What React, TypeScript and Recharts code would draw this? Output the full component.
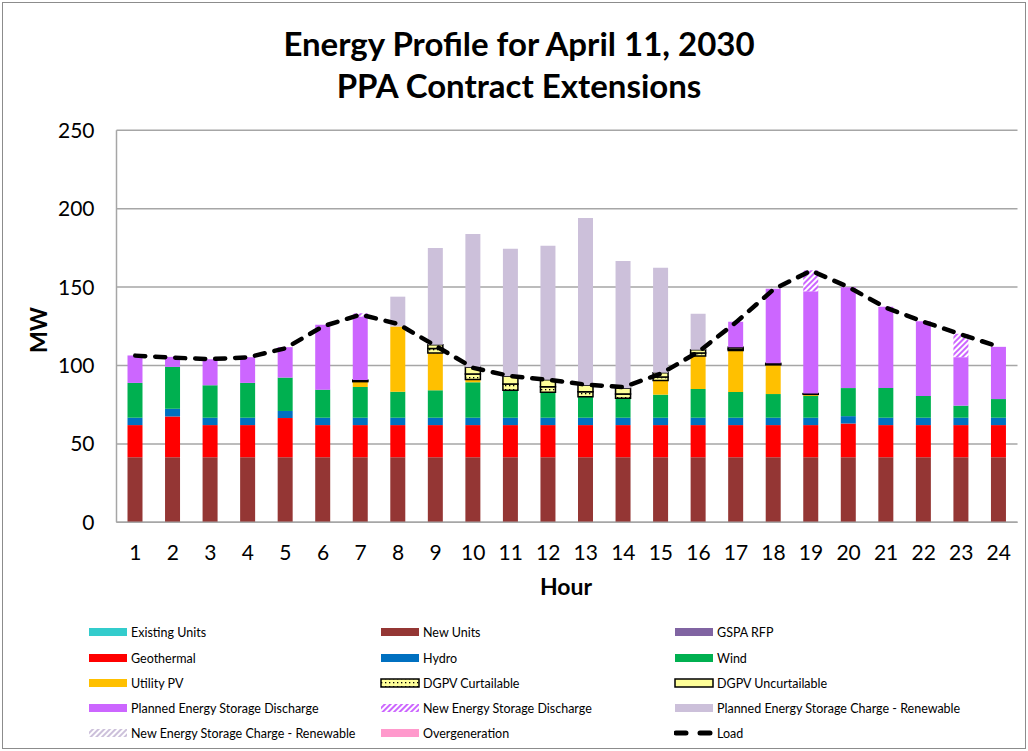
import React from 'react';
import { ComposedChart, Bar, Line, XAxis, YAxis, CartesianGrid } from 'recharts';

const hours = [1, 2, 3, 4, 5, 6, 7, 8, 9, 10, 11, 12, 13, 14, 15, 16, 17, 18, 19, 20, 21, 22, 23, 24];
const existingUnits = [0, 0, 0, 0, 0, 0, 0, 0, 0, 0, 0, 0, 0, 0, 0, 0, 0, 0, 0, 0, 0, 0, 0, 0];
const newUnits = [41.5, 41.5, 41.5, 41.5, 41.5, 41.5, 41.5, 41.5, 41.5, 41.5, 41.5, 41.5, 41.5, 41.5, 41.5, 41.5, 41.5, 41.5, 41.5, 41.5, 41.5, 41.5, 41.5, 41.5];
const gspaRfp = [0, 0, 0, 0, 0, 0, 0, 0, 0, 0, 0, 0, 0, 0, 0, 0, 0, 0, 0, 0, 0, 0, 0, 0];
const geothermal = [20.5, 26, 20.5, 20.5, 25, 20.5, 20.5, 20.5, 20.5, 20.5, 20.5, 20.5, 20.5, 20.5, 20.5, 20.5, 20.5, 20.5, 20.5, 21.5, 20.5, 20.5, 20.5, 20.5];
const hydro = [4.7, 4.9, 4.7, 4.7, 4.5, 4.7, 4.7, 4.7, 4.7, 4.7, 4.7, 4.7, 4.7, 4.7, 4.7, 4.7, 4.7, 4.7, 4.7, 4.7, 4.7, 4.7, 4.7, 4.7];
const wind = [22.2, 26.7, 20.7, 22.2, 21.3, 17.9, 19.6, 16.6, 17.5, 22.6, 17.5, 16.2, 13.4, 12.4, 14.7, 18.3, 16.4, 15.1, 13.9, 17.9, 19, 13.9, 7.7, 11.9];
const utilityPV = [0, 0, 0, 0, 0, 0, 3.4, 41.6, 23.7, 1.7, 0, 0, 0, 0, 9, 21.1, 26.5, 18.6, 1, 0, 0, 0, 0, 0];
const dgpvCurtailable = [0, 0, 0, 0, 0, 0, 0.5, 0, 3, 3.5, 4, 3.5, 3.2, 2.8, 2.2, 1.8, 1, 0.5, 0.3, 0, 0, 0, 0, 0];
const dgpvUncurtailable = [0, 0, 0, 0, 0, 0, 0.5, 0, 2.3, 4.4, 5, 4.5, 4.1, 3.6, 2.8, 2.1, 1, 0.5, 0.2, 0, 0, 0, 0, 0];
const plannedDischarge = [17.5, 6.4, 16.6, 16.4, 19.4, 41.4, 40.6, 0, 0, 0, 0, 0, 0, 0, 0, 0, 16.3, 47.6, 65.2, 64.3, 51.8, 47.7, 30.9, 33.3];
const newDischarge = [0, 0, 0, 0, 0, 0, 2, 0, 0, 0, 0, 0, 0, 0, 0, 0, 0, 0, 13.4, 0, 0, 0, 14.9, 0];
const plannedCharge = [0, 0, 0, 0, 0, 0, 0, 19, 61.8, 84.9, 81.2, 85.5, 106.6, 81.1, 67, 23, 0, 0, 0, 0, 0, 0, 0, 0];
const newCharge = [0, 0, 0, 0, 0, 0, 0, 0, 0, 0, 0, 0, 0, 0, 0, 0, 0, 0, 0, 0, 0, 0, 0, 0];
const overgeneration = [0, 0, 0, 0, 0, 0, 0, 0, 0, 0, 0, 0, 0, 0, 0, 0, 0, 0, 0, 0, 0, 0, 0, 0];
const load = [106.3, 105, 104.1, 105.2, 111, 125, 132.5, 126.5, 112.5, 98.5, 93.2, 90.9, 87.8, 86.2, 94.8, 108.7, 127.5, 148.5, 160.5, 150, 136.8, 127.9, 119.8, 112];
const yTicks = [0, 50, 100, 150, 200, 250];

const data = hours.map((h, i) => ({
  hour: h,
  existingUnits: existingUnits[i],
  newUnits: newUnits[i],
  gspaRfp: gspaRfp[i],
  geothermal: geothermal[i],
  hydro: hydro[i],
  wind: wind[i],
  utilityPV: utilityPV[i],
  dgpvCurtailable: dgpvCurtailable[i],
  dgpvUncurtailable: dgpvUncurtailable[i],
  plannedDischarge: plannedDischarge[i],
  newDischarge: newDischarge[i],
  plannedCharge: plannedCharge[i],
  newCharge: newCharge[i],
  overgeneration: overgeneration[i],
  load: load[i],
}));

const FONT = "Lato, 'Liberation Sans', sans-serif";

type LegendItem = { name: string; fill: string; stroke?: string; kind?: 'line' };
const legendItems: LegendItem[] = [
  { name: 'Existing Units', fill: '#33CCCC' },
  { name: 'New Units', fill: '#943634' },
  { name: 'GSPA RFP', fill: '#8064A2' },
  { name: 'Geothermal', fill: '#FF0000' },
  { name: 'Hydro', fill: '#0070C0' },
  { name: 'Wind', fill: '#00B050' },
  { name: 'Utility PV', fill: '#FFC000' },
  { name: 'DGPV Curtailable', fill: 'url(#dgpvDots)', stroke: '#000' },
  { name: 'DGPV Uncurtailable', fill: '#FFFF99', stroke: '#000' },
  { name: 'Planned Energy Storage Discharge', fill: '#CC66FF' },
  { name: 'New Energy Storage Discharge', fill: 'url(#newDisHatch)' },
  { name: 'Planned Energy Storage Charge - Renewable', fill: '#CCC0DA' },
  { name: 'New Energy Storage Charge - Renewable', fill: 'url(#newChgHatch)' },
  { name: 'Overgeneration', fill: '#FF99CC' },
  { name: 'Load', fill: 'none', kind: 'line' },
];

const colX = [88, 380, 674];
const rowY = [632, 658, 683, 708, 733];

export default function App() {
  return (
    <div style={{ position: 'absolute', left: 0, top: 0, width: 1028, height: 751, background: '#fff', fontFamily: FONT }}>
      <svg width={0} height={0} style={{ position: 'absolute' }}>
        <defs>
          <pattern id="dgpvDots" width={4} height={4} patternUnits="userSpaceOnUse">
            <rect width={4} height={4} fill="#FFFF99" />
            <rect x={1} y={1} width={1.3} height={1.3} fill="#000" />
          </pattern>
          <pattern id="newDisHatch" width={4} height={4} patternUnits="userSpaceOnUse" patternTransform="rotate(45)">
            <rect width={4} height={4} fill="#fff" />
            <rect width={2} height={4} fill="#CC66FF" />
          </pattern>
          <pattern id="newChgHatch" width={4} height={4} patternUnits="userSpaceOnUse" patternTransform="rotate(45)">
            <rect width={4} height={4} fill="#fff" />
            <rect width={2} height={4} fill="#CCC0DA" />
          </pattern>
        </defs>
      </svg>
      <div style={{ position: 'absolute', left: 2, top: 2, width: 1022, height: 745, border: '1px solid #8c8c8c' }} />
      <div style={{ position: 'absolute', left: 0, width: 1028, top: 22, textAlign: 'center', fontWeight: 'bold', fontSize: 33, lineHeight: '42px', color: '#000' }}>
        <div style={{ marginLeft: 10 }}>Energy Profile for April 11, 2030</div>
        <div style={{ marginLeft: 10 }}>PPA Contract Extensions</div>
      </div>
      <div style={{ position: 'absolute', left: 0, top: 0 }}>
        <ComposedChart width={1028} height={751} data={data} margin={{ top: 130.3, right: 10.5, bottom: 198.7, left: 56.5 }} barSize={15}>
          <CartesianGrid vertical={false} stroke="#A6A6A6" strokeWidth={1.5} />
          <XAxis
            dataKey="hour"
            height={30}
            tickLine={false}
            tickSize={0}
            tickMargin={23}
            axisLine={{ stroke: '#A6A6A6', strokeWidth: 1.5 }}
            tick={{ fontSize: 21, fill: '#000', fontFamily: FONT }}
            interval={0}
          />
          <YAxis
            width={60}
            domain={[0, 250]}
            ticks={yTicks}
            tickLine={false}
            tickSize={0}
            tickMargin={22}
            axisLine={{ stroke: '#A6A6A6', strokeWidth: 1.5 }}
            tick={{ fontSize: 21, fill: '#000', fontFamily: FONT }}
          />
          <Bar dataKey="existingUnits" stackId="s" fill="#33CCCC" isAnimationActive={false} />
          <Bar dataKey="newUnits" stackId="s" fill="#943634" isAnimationActive={false} />
          <Bar dataKey="gspaRfp" stackId="s" fill="#8064A2" isAnimationActive={false} />
          <Bar dataKey="geothermal" stackId="s" fill="#FF0000" isAnimationActive={false} />
          <Bar dataKey="hydro" stackId="s" fill="#0070C0" isAnimationActive={false} />
          <Bar dataKey="wind" stackId="s" fill="#00B050" isAnimationActive={false} />
          <Bar dataKey="utilityPV" stackId="s" fill="#FFC000" isAnimationActive={false} />
          <Bar dataKey="dgpvCurtailable" stackId="s" fill="url(#dgpvDots)" stroke="#000" strokeWidth={1.5} isAnimationActive={false} />
          <Bar dataKey="dgpvUncurtailable" stackId="s" fill="#FFFF99" stroke="#000" strokeWidth={1.5} isAnimationActive={false} />
          <Bar dataKey="plannedDischarge" stackId="s" fill="#CC66FF" isAnimationActive={false} />
          <Bar dataKey="newDischarge" stackId="s" fill="url(#newDisHatch)" isAnimationActive={false} />
          <Bar dataKey="plannedCharge" stackId="s" fill="#CCC0DA" isAnimationActive={false} />
          <Bar dataKey="newCharge" stackId="s" fill="url(#newChgHatch)" isAnimationActive={false} />
          <Bar dataKey="overgeneration" stackId="s" fill="#FF99CC" isAnimationActive={false} />
          <Line
            dataKey="load"
            type="linear"
            stroke="#000"
            strokeWidth={4.5}
            strokeDasharray="10 10"
            strokeLinecap="round"
            dot={false}
            activeDot={false}
            isAnimationActive={false}
          />
        </ComposedChart>
      </div>
      <div style={{ position: 'absolute', left: 0, top: 572, width: 1028, textAlign: 'center', fontWeight: 'bold', fontSize: 23, paddingLeft: 104, boxSizing: 'border-box' }}>
        Hour
      </div>
      <div style={{ position: 'absolute', left: 38, top: 330, transform: 'translate(-50%, -50%) rotate(-90deg)', fontWeight: 'bold', fontSize: 23 }}>
        MW
      </div>
      {legendItems.map((it, i) => {
        const x = colX[i % 3];
        const y = rowY[Math.floor(i / 3)];
        return (
          <div key={it.name} style={{ position: 'absolute', left: x, top: y - 9, height: 18, display: 'flex', alignItems: 'center', fontSize: 12.5, color: '#000', whiteSpace: 'nowrap' }}>
            <svg width={40} height={12} style={{ marginRight: 3 }}>
              {it.kind === 'line' ? (
                <line x1={2} y1={6} x2={38} y2={6} stroke="#000" strokeWidth={5} strokeDasharray="10 14" strokeLinecap="round" />
              ) : (
                <rect x={1} y={2} width={38} height={8} fill={it.fill} stroke={it.stroke || 'none'} strokeWidth={it.stroke ? 1.5 : 0} />
              )}
            </svg>
            <span>{it.name}</span>
          </div>
        );
      })}
    </div>
  );
}
